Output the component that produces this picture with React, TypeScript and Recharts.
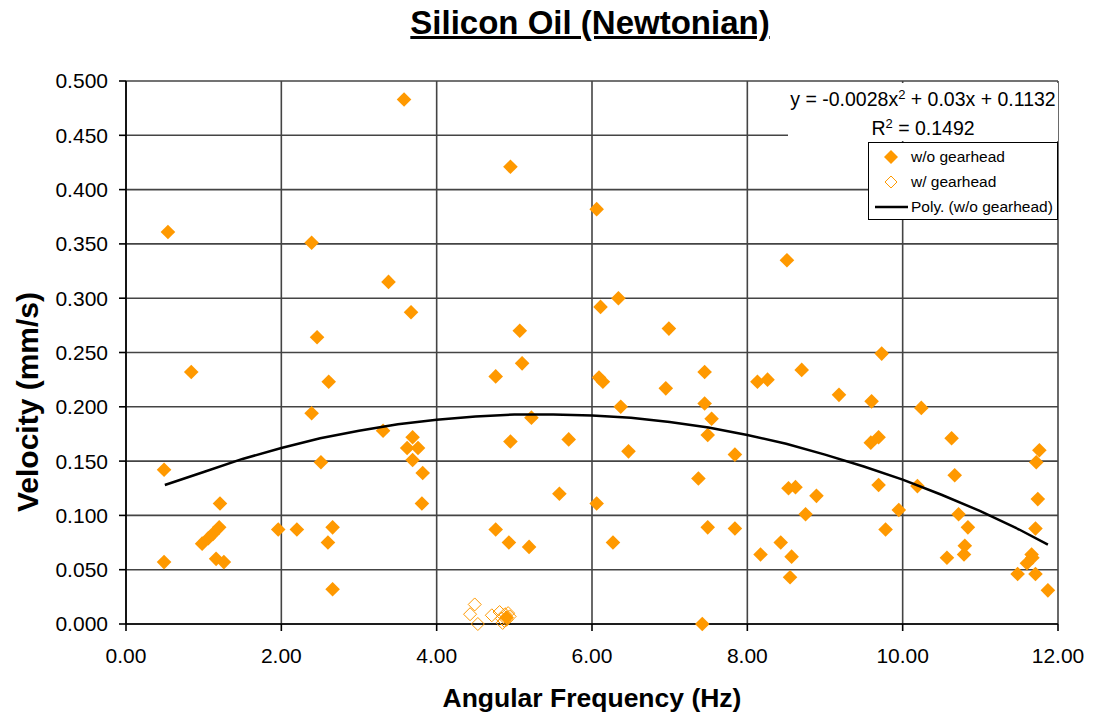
import React from "react";
import {
  ScatterChart,
  Scatter,
  XAxis,
  YAxis,
  CartesianGrid,
  Legend,
  Label,
} from "recharts";

const FONT = "'Liberation Sans', Arial, sans-serif";
const ORANGE = "#FF9900";

// w/o gearhead (filled)
const woFreq = [
  0.54, 2.39, 2.46, 0.84, 2.61, 2.39, 0.49, 2.51, 1.21, 1.2, 1.12, 1.06, 0.98,
  1.96, 2.2, 2.66, 2.6, 0.49, 1.16, 1.26, 2.66, 3.58, 4.95, 6.06, 3.38, 3.67,
  5.07, 6.11, 5.1, 4.76, 6.09, 6.14, 3.31, 3.69, 3.62, 3.76, 3.69, 3.82, 3.81,
  5.22, 4.95, 5.7, 5.58, 6.06, 4.76, 4.93, 5.19, 6.27, 8.51, 6.34, 6.99, 7.45,
  6.95, 8.13, 8.26, 8.7, 9.18, 6.37, 7.45, 7.54, 7.49, 6.47, 7.84, 7.37, 8.53,
  8.62, 8.89, 8.75, 7.49, 7.84, 8.43, 8.17, 8.57, 8.55, 7.42, 9.73, 9.6, 10.24,
  9.59, 9.69, 10.63, 11.76, 11.72, 10.67, 9.69, 10.19, 11.74, 9.95, 10.72,
  10.84, 9.78, 11.71, 10.8, 10.79, 10.57, 11.66, 11.6, 11.67, 11.48, 11.71,
  11.87, 4.9,
];
const woVel = [
  0.361, 0.351, 0.264, 0.232, 0.223, 0.194, 0.142, 0.149, 0.111, 0.089, 0.083,
  0.079, 0.074, 0.087, 0.087, 0.089, 0.075, 0.057, 0.06, 0.057, 0.032, 0.483,
  0.421, 0.382, 0.315, 0.287, 0.27, 0.292, 0.24, 0.228, 0.227, 0.223, 0.178,
  0.172, 0.162, 0.162, 0.151, 0.139, 0.111, 0.19, 0.168, 0.17, 0.12, 0.111,
  0.087, 0.075, 0.071, 0.075, 0.335, 0.3, 0.272, 0.232, 0.217, 0.223, 0.225,
  0.234, 0.211, 0.2, 0.203, 0.189, 0.174, 0.159, 0.156, 0.134, 0.125, 0.126,
  0.118, 0.101, 0.089, 0.088, 0.075, 0.064, 0.062, 0.043, 0.0, 0.249, 0.205,
  0.199, 0.167, 0.172, 0.171, 0.16, 0.149, 0.137, 0.128, 0.127, 0.115, 0.105,
  0.101, 0.089, 0.087, 0.088, 0.072, 0.064, 0.061, 0.064, 0.056, 0.061, 0.046,
  0.046, 0.031, 0.006,
];

// w/ gearhead (hollow)
const wFreq = [4.49, 4.43, 4.53, 4.71, 4.81, 4.88, 4.9, 4.84, 4.94, 4.85, 4.92, 4.87];
const wVel = [0.018, 0.009, 0.0, 0.008, 0.011, 0.009, 0.004, 0.005, 0.007, 0.001, 0.01, 0.003];

// Poly. trend line (w/o gearhead)
const trendFreq = [
  0.5, 1.0, 1.5, 2.0, 2.5, 3.0, 3.5, 4.0, 4.5, 5.0, 5.5, 6.0, 6.5, 7.0, 7.5, 8.0,
  8.5, 9.0, 9.5, 10.0, 10.5, 11.0, 11.5, 11.87,
];
const trendVel = [
  0.128, 0.14, 0.152, 0.162, 0.171, 0.178, 0.184, 0.188, 0.191, 0.193, 0.193,
  0.192, 0.19, 0.186, 0.181, 0.174, 0.166, 0.156, 0.145, 0.133, 0.119, 0.104,
  0.087, 0.073,
];

const xTicks = [0, 2, 4, 6, 8, 10, 12];
const yTicks = [0, 0.05, 0.1, 0.15, 0.2, 0.25, 0.3, 0.35, 0.4, 0.45, 0.5];

const woData = woFreq.map((x, i) => ({ x, y: woVel[i] }));
const wData = wFreq.map((x, i) => ({ x, y: wVel[i] }));
const trendData = trendFreq.map((x, i) => ({ x, y: trendVel[i] }));

const FilledDiamond = (props: any) => {
  const { cx, cy } = props;
  const r = 7.3;
  return (
    <path
      d={`M${cx},${cy - r}L${cx + r},${cy}L${cx},${cy + r}L${cx - r},${cy}Z`}
      fill={ORANGE}
    />
  );
};

const HollowDiamond = (props: any) => {
  const { cx, cy } = props;
  const r = 6.5;
  return (
    <path
      d={`M${cx},${cy - r}L${cx + r},${cy}L${cx},${cy + r}L${cx - r},${cy}Z`}
      fill="none"
      stroke={ORANGE}
      strokeWidth={1}
    />
  );
};

const NoDot = () => <g />;

const LegendBox = () => {
  const row: React.CSSProperties = {
    display: "flex",
    alignItems: "center",
    height: 25,
    fontSize: 15.5,
    color: "#000",
    fontFamily: FONT,
    whiteSpace: "nowrap",
  };
  return (
    <div>
      <div style={row}>
        <svg width={42} height={20} style={{ flex: "none" }}>
          <path d="M22,3L29,10L22,17L15,10Z" fill={ORANGE} />
        </svg>
        <span>w/o gearhead</span>
      </div>
      <div style={row}>
        <svg width={42} height={20} style={{ flex: "none" }}>
          <path d="M22,4L28,10L22,16L16,10Z" fill="none" stroke={ORANGE} />
        </svg>
        <span>w/ gearhead</span>
      </div>
      <div style={row}>
        <svg width={42} height={20} style={{ flex: "none" }}>
          <line x1={6} y1={10} x2={39} y2={10} stroke="#000" strokeWidth={2.5} />
        </svg>
        <span>Poly. (w/o gearhead)</span>
      </div>
    </div>
  );
};

export default function App() {
  return (
    <div
      style={{
        position: "absolute",
        left: 0,
        top: 0,
        width: 1093,
        height: 715,
        background: "#fff",
        fontFamily: FONT,
      }}
    >
      <ScatterChart
        width={1093}
        height={715}
        margin={{ top: 81, right: 35, bottom: 0, left: 0 }}
      >
        <CartesianGrid stroke="#444" strokeWidth={1.6} />
        <XAxis
          type="number"
          dataKey="x"
          domain={[0, 12]}
          ticks={xTicks}
          interval={0}
          height={91}
          tickSize={7}
          tickMargin={17}
          tickFormatter={(v: number) => v.toFixed(2)}
          tick={{ fontSize: 21, fill: "#000", fontFamily: FONT }}
          axisLine={{ stroke: "#000", strokeWidth: 1.6 }}
          tickLine={{ stroke: "#000", strokeWidth: 1.6 }}
        >
          <Label
            content={({ viewBox }: any) => (
              <text
                x={viewBox.x + viewBox.width / 2}
                y={viewBox.y + 83}
                textAnchor="middle"
                fontSize={26.5}
                fontWeight="bold"
                fontFamily={FONT}
                fill="#000"
              >
                Angular Frequency (Hz)
              </text>
            )}
          />
        </XAxis>
        <YAxis
          type="number"
          dataKey="y"
          domain={[0, 0.5]}
          ticks={yTicks}
          interval={0}
          width={126}
          tickSize={7}
          tickMargin={11}
          tickFormatter={(v: number) => v.toFixed(3)}
          tick={{ fontSize: 21, fill: "#000", fontFamily: FONT }}
          axisLine={{ stroke: "#000", strokeWidth: 1.6 }}
          tickLine={{ stroke: "#000", strokeWidth: 1.6 }}
        >
          <Label
            content={({ viewBox }: any) => {
              const cx = viewBox.x + 38;
              const cy = 402;
              return (
                <text
                  x={cx}
                  y={cy}
                  transform={`rotate(-90 ${cx} ${cy})`}
                  textAnchor="middle"
                  fontSize={30}
                  fontWeight="bold"
                  fontFamily={FONT}
                  fill="#000"
                >
                  Velocity (mm/s)
                </text>
              );
            }}
          />
        </YAxis>
        <Legend
          layout="vertical"
          align="center"
          verticalAlign="middle"
          content={() => <LegendBox />}
          wrapperStyle={{
            left: 868,
            top: 142,
            width: 190,
            height: 78,
            boxSizing: "border-box",
            border: "1.5px solid #000",
            background: "#fff",
            padding: "1px 0 0 0",
            overflow: "hidden",
          }}
        />
        <Scatter
          name="w/o gearhead"
          data={woData}
          shape={<FilledDiamond />}
          isAnimationActive={false}
        />
        <Scatter
          name="w/ gearhead"
          data={wData}
          shape={<HollowDiamond />}
          isAnimationActive={false}
        />
        <Scatter
          name="Poly. (w/o gearhead)"
          data={trendData}
          shape={<NoDot />}
          line={{ stroke: "#000", strokeWidth: 2.5 }}
          lineJointType="linear"
          isAnimationActive={false}
        />
      </ScatterChart>

      <div
        style={{
          position: "absolute",
          left: 0,
          top: 4,
          width: 1180,
          textAlign: "center",
          fontSize: 33,
          fontWeight: "bold",
          textDecoration: "underline",
          color: "#000",
          whiteSpace: "nowrap",
        }}
      >
        Silicon Oil (Newtonian)
      </div>

      <div
        style={{
          position: "absolute",
          left: 788,
          top: 83,
          width: 270,
          height: 58,
          background: "#fff",
          fontSize: 19.5,
          color: "#000",
          textAlign: "center",
          lineHeight: "29px",
          whiteSpace: "nowrap",
        }}
      >
        <div style={{ paddingTop: 2 }}>
          y = -0.0028x<sup style={{ fontSize: 13, lineHeight: 0 }}>2</sup> + 0.03x + 0.1132
        </div>
        <div>
          R<sup style={{ fontSize: 13, lineHeight: 0 }}>2</sup> = 0.1492
        </div>
      </div>
    </div>
  );
}
